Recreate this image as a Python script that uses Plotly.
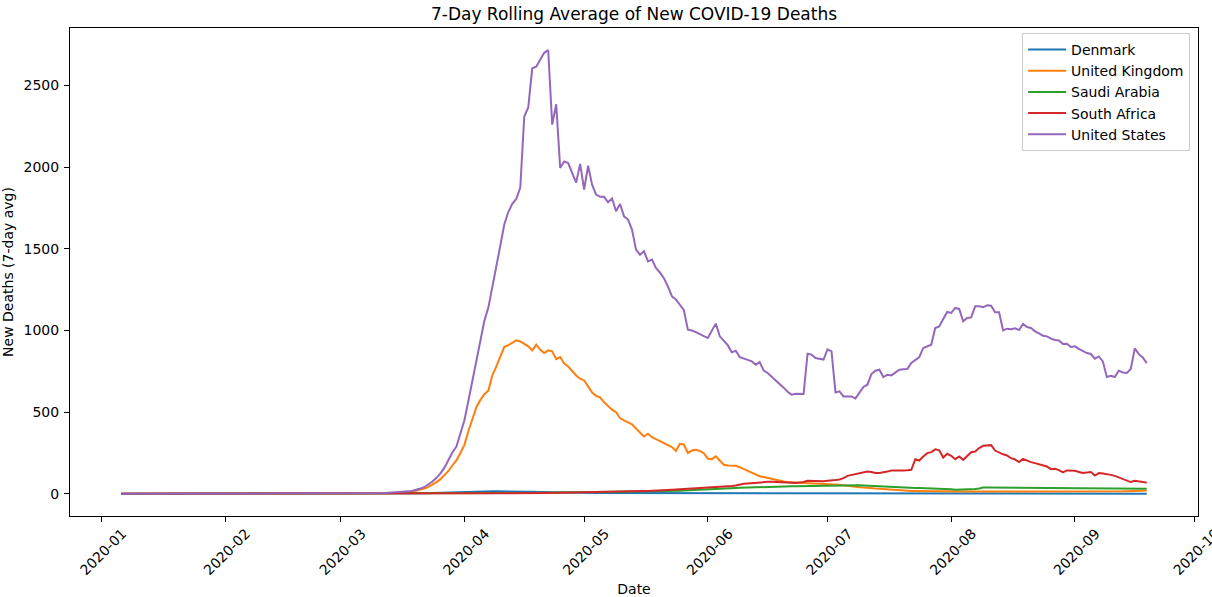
import pandas as pd
import plotly.graph_objects as go

# ---------------- data (7-day rolling average of new deaths, daily from 2020-01-06) ----------------
START_DATE = "2020-01-06"

denmark = [
    0, 0, 0, 0, 0, 0, 0, 0, 0, 0,            # day 5-14
    0, 0, 0, 0, 0, 0, 0, 0, 0, 0,
    0, 0, 0, 0, 0, 0, 0, 0, 0, 0,
    0, 0, 0, 0, 0, 0, 0, 0, 0, 0,
    0, 0, 0, 0, 0, 0, 0, 0, 0, 0,
    0, 0, 0, 0, 0, 0, 0, 0, 0, 0,
    0, 0, 0, 0, 0, 0, 0, 0, 0, 0.3,          # day 65-74
    0.5, 0.7, 1, 1.5, 2, 2.5, 3, 4, 5, 6,
    7, 8, 9, 10, 11, 12, 13, 14, 15, 15,
    16, 16, 16, 16, 16, 15, 15, 15, 14, 14,
    13, 13, 12, 12, 11, 11, 10, 10, 9, 9,
    8, 8, 8, 7, 7, 7, 6, 6, 6, 5,
    5, 5, 5, 4, 4, 4, 4, 3, 3, 3,
    3, 2.5, 2.5, 2.5, 2, 2, 2, 2, 2, 2,
    2, 2, 2, 1.5, 1.5, 1.5, 1.5, 1.5, 1.5, 1.5,
    1.5, 1.2, 1.2, 1.2, 1, 1, 1, 1, 1, 1,
    1, 1, 1, 1, 1, 0.8, 0.8, 0.8, 0.8, 0.8,
    0.7, 0.7, 0.7, 0.6, 0.6, 0.6, 0.6, 0.5, 0.5, 0.5,
    0.5, 0.5, 0.5, 0.5, 0.5, 0.5, 0.4, 0.4, 0.4, 0.4,
    0.4, 0.4, 0.4, 0.4, 0.4, 0.4, 0.4, 0.4, 0.4, 0.4,
    0.4, 0.4, 0.4, 0.4, 0.4, 0.4, 0.4, 0.4, 0.4, 0.4,
    0.4, 0.4, 0.4, 0.4, 0.4, 0.4, 0.4, 0.4, 0.4, 0.4,
    0.4, 0.4, 0.4, 0.4, 0.4, 0.4, 0.4, 0.4, 0.4, 0.4,
    0.4, 0.4, 0.4, 0.4, 0.4, 0.4, 0.4, 0.4, 0.4, 0.4,
    0.4, 0.4, 0.4, 0.4, 0.4, 0.4, 0.4, 0.4, 0.4, 0.4,
    0.4, 0.4, 0.4, 0.4, 0.4, 0.4, 0.4, 0.4,
]

united_kingdom = [
    0, 0, 0, 0, 0, 0, 0, 0, 0, 0,
    0, 0, 0, 0, 0, 0, 0, 0, 0, 0,
    0, 0, 0, 0, 0, 0, 0, 0, 0, 0,
    0, 0, 0, 0, 0, 0, 0, 0, 0, 0,
    0, 0, 0, 0, 0, 0, 0, 0, 0, 0,
    0, 0, 0, 0, 0, 0, 0, 0, 0, 0.2,          # day 55-64
    0.3, 0.5, 0.7, 1, 1.5, 2, 2.5, 3, 4, 5,
    6, 8, 11, 14, 19, 25, 32, 42, 55, 72,
    90, 112, 140, 175, 205, 250, 300, 385, 460, 530,
    575, 610, 632, 725, 780, 840, 900, 910, 925, 940,
    933, 918, 903, 878, 913, 882, 862, 878, 872, 825,
    837, 797, 780, 752, 725, 705, 694, 658, 620, 600,
    590, 560, 535, 515, 500, 464, 450, 440, 425, 400,
    375, 351, 368, 347, 335, 320, 310, 298, 286, 263,
    306, 302, 250, 265, 270, 262, 249, 215, 212, 229,
    200, 178, 173, 173, 172, 163, 152, 140, 130, 115,
    108, 103, 97, 90, 86, 80, 76, 73, 70, 69,
    67, 66, 65, 64, 63, 62, 62, 61, 60, 57,
    55, 52, 48, 44, 42, 40, 38, 35, 33, 32,
    31, 29, 27, 24, 22, 21, 20, 19, 18, 18,
    17, 17, 17, 16, 16, 16, 16, 15, 15, 15,
    14, 14, 14, 14, 14, 14, 14, 13, 13, 13,
    13, 13, 13, 13, 13, 13, 12, 12, 12, 12,
    12, 12, 12, 12, 12, 12, 11, 11, 11, 11,
    11, 11, 11, 12, 12, 12, 13, 13, 14, 14,
    15, 15, 16, 16, 17, 18, 19, 20,
]

saudi_arabia = [
    0, 0, 0, 0, 0, 0, 0, 0, 0, 0,
    0, 0, 0, 0, 0, 0, 0, 0, 0, 0,
    0, 0, 0, 0, 0, 0, 0, 0, 0, 0,
    0, 0, 0, 0, 0, 0, 0, 0, 0, 0,
    0, 0, 0, 0, 0, 0, 0, 0, 0, 0,
    0, 0, 0, 0, 0, 0, 0, 0, 0, 0,
    0, 0, 0, 0, 0, 0, 0, 0, 0, 0,
    0, 0, 0, 0, 0, 0, 0, 0, 0.3, 0.4,       # day 75-84
    0.4, 0.6, 0.7, 0.7, 1, 1.1, 1.3, 1.4, 1.9, 2,
    2.3, 2.4, 2.9, 3, 3.3, 3.1, 3.6, 3.9, 4, 4.3,
    4.1, 4.6, 4.7, 5, 5.3, 5.1, 5.6, 5.7, 6, 6.1,
    6.3, 6.6, 6.9, 6.7, 7.1, 7.4, 7.9, 8, 8.3, 8.6,
    8.9, 9.1, 9.4, 9.6, 9.9, 10, 10.4, 10.7, 10.9, 11.3,
    11.6, 11.9, 12.4, 12.9, 13.3, 14, 14.9, 15.7, 16.6, 17.9,
    19, 20, 21.6, 23, 24.4, 26, 27.3, 28.6, 30, 31.6,
    32.7, 33.9, 35, 35.4, 36.1, 37, 38, 38.9, 39.6, 40.6,
    41.4, 42, 42.9, 43.3, 44, 44.4, 45, 45.3, 45.9, 46.1,
    46.7, 46.9, 47.1, 47.6, 48, 48.3, 48.7, 49, 49.1, 49.4,
    50, 51, 52.4, 53, 52.6, 51.9, 50.6, 49.3, 47.7, 46.3,
    44.4, 42.7, 41.1, 40, 39.6, 39.1, 38.4, 37.7, 37, 36.1,
    35.6, 35, 34.3, 33.7, 33, 32.6, 31.4, 30, 27.6, 25,
    25.4, 26, 27.6, 28.3, 29, 33, 38.6, 38.1, 37.9, 37.6,
    37.4, 37.1, 37, 36.9, 36.6, 36.3, 36, 35.6, 35.3, 35,
    34.7, 34.4, 34, 33.7, 33.4, 33, 32.6, 32.3, 32, 31.7,
    31.4, 31.1, 31, 30.7, 30.6, 30.4, 30.1, 30, 29.9, 29.7,
    29.6, 29.4, 29.3, 29.6, 29.9, 30.1, 30.4, 30.6,
]

south_africa = [
    0, 0, 0, 0, 0, 0, 0, 0, 0, 0,
    0, 0, 0, 0, 0, 0, 0, 0, 0, 0,
    0, 0, 0, 0, 0, 0, 0, 0, 0, 0,
    0, 0, 0, 0, 0, 0, 0, 0, 0, 0,
    0, 0, 0, 0, 0, 0, 0, 0, 0, 0,
    0, 0, 0, 0, 0, 0, 0, 0, 0, 0,
    0, 0, 0, 0, 0, 0, 0, 0, 0, 0,
    0, 0, 0, 0, 0, 0, 0, 0, 0, 0,
    0.1, 0.2, 0.3, 0.3, 0.4, 0.5, 0.6, 0.7, 0.9, 1,   # day 85-94
    1.1, 1.3, 1.4, 1.6, 1.7, 2, 2.1, 2.3, 2.6, 2.9,
    3, 3.1, 3.3, 3.6, 3.9, 4.1, 4.4, 4.7, 5, 5.3,
    5.6, 6, 6.3, 6.7, 7.1, 7.6, 8, 8.6, 9.1, 9.7,
    10.3, 10.7, 11.3, 11.9, 12.4, 13, 13.6, 14.1, 14.7, 15.3,
    15.9, 16.6, 17.3, 18, 19.4, 21, 22.6, 24, 25.4, 27,
    28.3, 29.7, 31, 32.1, 33.4, 35, 36.3, 37.7, 39.1, 40.6,
    42, 43.4, 45, 48, 51, 57, 61, 63.3, 66, 69,
    70.4, 72, 73.3, 74, 73.6, 72.7, 71.3, 69, 67.6, 66,
    68, 72, 80, 78.3, 76, 75, 77, 79.6, 80, 84,
    88, 96, 110, 116, 121, 127, 131, 137, 133, 127,
    128, 131, 136, 143, 142, 141, 142, 144, 147, 212,
    204, 228, 249, 255, 272, 266, 222, 245, 233, 212,
    229, 208, 232, 255, 259, 280, 294, 296, 298, 265,
    252, 242, 235, 218, 210, 194, 214, 202, 194, 188,
    182, 174, 167, 151, 153, 145, 131, 143, 142, 141,
    134, 127, 130, 133, 112, 127, 125, 122, 116, 110,
    100, 90, 82, 72, 80, 78, 73, 68,
]

united_states = [
    0, 0, 0, 0, 0, 0, 0, 0, 0, 0,
    0, 0, 0, 0, 0, 0, 0, 0, 0, 0,
    0, 0, 0, 0, 0, 0, 0, 0, 0, 0,
    0, 0, 0, 0, 0, 0, 0, 0, 0, 0,
    0, 0, 0, 0, 0, 0, 0, 0, 0, 0,
    0, 0, 0, 0, 0.1, 0.3, 0.7, 1, 1.3, 1.6,       # day 55-64
    1.9, 2.3, 2.9, 3.4, 4, 4.5, 5.5, 6.5, 8, 9,
    11, 13, 15, 19, 24, 32, 42, 56, 75, 98,
    125, 160, 205, 255, 290, 370, 450, 570, 690, 810,
    930, 1060, 1140, 1260, 1380, 1520, 1650, 1725, 1775, 1805,
    1875, 2310, 2365, 2605, 2615, 2655, 2700, 2716, 2260, 2385,
    1995, 2035, 2025, 1965, 1905, 2020, 1863, 2008, 1893, 1832,
    1818, 1818, 1785, 1808, 1730, 1775, 1699, 1679, 1618, 1495,
    1464, 1485, 1423, 1434, 1383, 1355, 1320, 1270, 1209, 1190,
    1160, 1125, 1005, 1000, 990, 975, 965, 954, 1000, 1042,
    964, 940, 910, 866, 876, 837, 830, 820, 811, 790,
    807, 754, 740, 718, 698, 675, 650, 625, 607, 612,
    611, 611, 858, 852, 831, 828, 822, 884, 872, 621,
    627, 596, 596, 596, 584, 621, 654, 668, 733, 754,
    760, 715, 729, 725, 740, 760, 762, 764, 801, 820,
    837, 893, 905, 913, 1015, 1025, 1070, 1113, 1107, 1138,
    1132, 1056, 1076, 1080, 1148, 1148, 1142, 1154, 1152, 1111,
    1111, 1001, 1011, 1007, 1013, 1003, 1040, 1021, 1015, 995,
    982, 968, 964, 950, 942, 939, 917, 919, 899, 903,
    887, 872, 862, 856, 827, 841, 811, 715, 723, 715,
    754, 743, 740, 764, 890, 855, 835, 800,
]

countries = ["Denmark", "United Kingdom", "Saudi Arabia", "South Africa", "United States"]
series = [denmark, united_kingdom, saudi_arabia, south_africa, united_states]
colors = ["#1f77b4", "#ff7f0e", "#2ca02c", "#d62728", "#9467bd"]

# ---------------- figure ----------------
dates = pd.date_range(START_DATE, periods=len(united_states), freq="D")

fig = go.Figure()
for name, vals, col in zip(countries, series, colors):
    fig.add_trace(go.Scatter(
        x=dates[:len(vals)], y=vals, mode="lines", name=name,
        line=dict(color=col, width=2),
    ))

span = dates[-1] - dates[0]
x0 = dates[0] - span * 0.05
x1 = dates[-1] + span * 0.05
ymax = max(max(s) for s in series)
ymin = min(min(s) for s in series)
yr = ymax - ymin

FONT = "DejaVu Sans"
fig.update_layout(
    width=1212, height=597,
    margin=dict(l=70, r=14, t=28, b=81, autoexpand=False),
    paper_bgcolor="white", plot_bgcolor="white",
    font=dict(family=FONT, size=14, color="black"),
    title=dict(text="7-Day Rolling Average of New COVID-19 Deaths",
               font=dict(family=FONT, size=17, color="black"),
               x=(70 + 1198) / 2 / 1212, xanchor="center",
               y=1 - 14 / 597, yanchor="middle", yref="container"),
    showlegend=True,
    legend=dict(x=0.993, y=0.990, xanchor="right", yanchor="top",
                bgcolor="rgba(255,255,255,0.8)", bordercolor="#cccccc", borderwidth=1,
                font=dict(family=FONT, size=14, color="black"),
                tracegroupgap=0, itemwidth=38),
)
fig.update_xaxes(
    type="date", range=[x0, x1], tick0="2020-01-01", dtick="M1", tickformat="%Y-%m",
    tickangle=-45, ticklabelshift=21, ticklabelstandoff=-2, ticklabeloverflow="allow",
    showline=True, linecolor="black", linewidth=1, mirror=True,
    ticks="outside", ticklen=5, tickcolor="black", showgrid=False, zeroline=False,
    title=dict(text="Date", standoff=8, font=dict(family=FONT, size=14)),
    automargin=False,
)
fig.update_yaxes(
    range=[ymin - 0.05 * yr, ymax + 0.05 * yr], tickvals=[0, 500, 1000, 1500, 2000, 2500],
    showline=True, linecolor="black", linewidth=1, mirror=True,
    ticks="outside", ticklen=5, tickcolor="black", showgrid=False, zeroline=False,
    ticklabelstandoff=2,
    title=dict(text="New Deaths (7-day avg)", standoff=8, font=dict(family=FONT, size=14)),
    automargin=False,
)

fig.write_html("out.html")
